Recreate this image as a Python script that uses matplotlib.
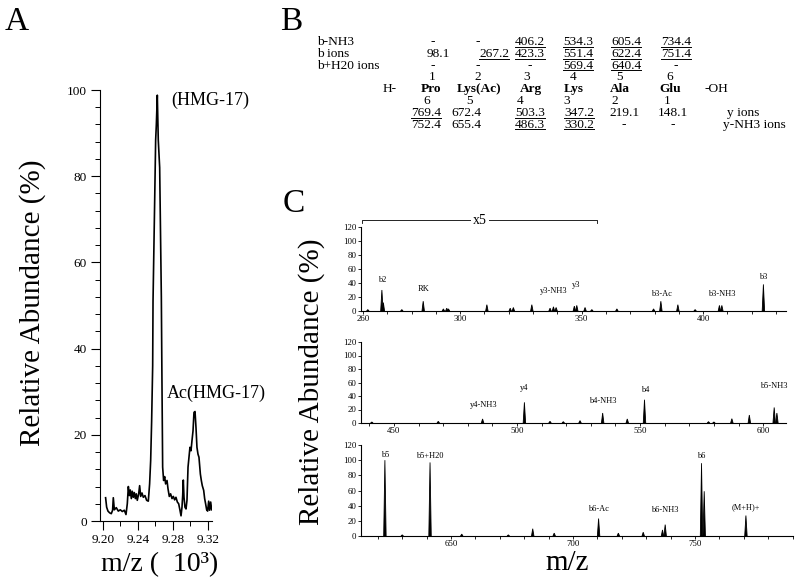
import matplotlib
matplotlib.use("Agg")
import matplotlib.pyplot as plt
from matplotlib.ticker import MultipleLocator, FixedLocator

plt.rcParams["font.family"] = ["Liberation Serif", "DejaVu Serif"]

W, H = 800, 586

# ── Panel A: HMG-17 mass profile (m/z x 10^3 vs relative abundance) ───────────
hmg_mz = [9.2030, 9.2042, 9.2057, 9.2076, 9.2095, 9.2110, 9.2118, 9.2130, 9.2152,
          9.2175, 9.2198, 9.2221, 9.2244, 9.2263, 9.2278, 9.2290, 9.2301, 9.2312,
          9.2324, 9.2335, 9.2347, 9.2358, 9.2370, 9.2381, 9.2392, 9.2408, 9.2419,
          9.2431, 9.2446, 9.2461, 9.2480, 9.2499, 9.2518, 9.2533, 9.2545, 9.2556,
          9.2568, 9.2572, 9.2591, 9.2602, 9.2610, 9.2621, 9.2632, 9.2648, 9.2667,
          9.2674, 9.2682, 9.2693, 9.2705, 9.2716, 9.2732, 9.2743, 9.2758, 9.2773,
          9.2789, 9.2804, 9.2819, 9.2834, 9.2850, 9.2865, 9.2880, 9.2892, 9.2903,
          9.2911, 9.2918, 9.2926, 9.2937, 9.2949, 9.2960, 9.2972, 9.2983, 9.2994,
          9.3006, 9.3017, 9.3029, 9.3040, 9.3052, 9.3063, 9.3074, 9.3086, 9.3097,
          9.3113, 9.3124, 9.3135, 9.3151, 9.3162, 9.3173, 9.3185, 9.3196, 9.3208,
          9.3219, 9.3231, 9.3242]
hmg_abund = [5.4, 3.2, 2.3, 1.9, 1.7, 2.5, 5.4, 2.6, 3.1,
             2.3, 2.6, 2.2, 2.5, 1.5, 4.0, 8.0, 5.9, 7.2,
             5.2, 6.9, 5.5, 6.6, 5.2, 6.3, 4.8, 6.3, 8.2,
             5.7, 6.5, 5.5, 5.9, 4.8, 4.6, 8.6, 14.0, 23.0,
             36.0, 51.0, 74.5, 88.4, 92.0, 98.8, 88.4, 82.0, 52.0,
             32.7, 12.5, 9.4, 10.3, 8.6, 9.4, 7.5, 5.7, 6.3,
             5.2, 5.7, 4.9, 5.5, 4.4, 4.0, 2.5, 1.2, 3.2,
             5.9, 9.5, 5.5, 3.2, 2.8, 4.8, 12.5, 14.8, 17.1,
             16.3, 18.6, 20.9, 25.2, 25.4, 21.7, 17.1, 15.5, 14.8,
             10.9, 9.4, 8.2, 7.1, 5.2, 4.0, 2.6, 2.3, 4.6,
             2.5, 4.4, 2.6]

# ── Panel B: fragment table ───────────────────────────────────────────────────
residues = ["Pro", "Lys(Ac)", "Arg", "Lys", "Ala", "Glu"]
b_nh3 = ["-", "-", "406.2", "534.3", "605.4", "734.4"]
b_ions = ["98.1", "267.2", "423.3", "551.4", "622.4", "751.4"]
b_h2o = ["-", "-", "-", "569.4", "640.4", "-"]
y_ions = ["769.4", "672.4", "503.3", "347.2", "219.1", "148.1"]
y_nh3 = ["752.4", "655.4", "486.3", "330.2", "-", "-"]
observed = {"406.2", "534.3", "605.4", "734.4", "267.2", "423.3", "551.4",
            "622.4", "751.4", "569.4", "640.4", "769.4", "503.3", "347.2",
            "486.3", "330.2"}

# ── Panel C: MS/MS spectra (m/z, relative abundance) ──────────────────────────
spec1_mz = [262.0, 267.8, 268.4, 276.0, 284.8, 293.1, 294.5, 295.2, 311.0, 320.6,
            321.9, 329.5, 337.0, 338.4, 339.5, 347.0, 348.0, 351.4, 354.2, 364.5,
            379.6, 382.6, 389.6, 396.7, 406.7, 407.7, 424.8]
spec1_int = [2, 30, 12, 2, 14, 3, 4, 3, 9, 4,
             5, 9, 4, 6, 5, 7, 8, 5, 2, 3,
             3, 14, 9, 2, 8, 8, 38]
spec1_labels = [("b2", 267.8, 44), ("RK", 284.8, 32), ("y3-NH3", 338.4, 28),
                ("y3", 347.6, 37), ("b3-Ac", 383.0, 25), ("b3-NH3", 407.7, 24),
                ("b3", 424.8, 49)]

spec2_mz = [441.0, 468.0, 486.0, 503.0, 513.4, 518.8, 525.6, 534.8, 544.8, 551.8,
            577.8, 580.0, 587.3, 594.4, 604.5, 605.6]
spec2_int = [1.5, 2.5, 6, 30.6, 2.5, 2, 3.5, 14.8, 6, 34.5,
             2, 1.5, 6.4, 11.8, 23, 14.8]
spec2_labels = [("y4-NH3", 486.5, 27), ("y4", 503.0, 52), ("b4-NH3", 534.8, 33),
                ("b4", 552.0, 49), ("b5-NH3", 604.5, 55)]

spec3_mz = [622.9, 630.0, 641.4, 654.4, 673.5, 683.5, 692.3, 710.5, 718.6, 728.8,
            736.7, 737.8, 752.7, 753.8, 770.9]
spec3_int = [100, 1.5, 97, 2.5, 1.5, 9.6, 3.8, 23, 3.8, 5,
             8, 15, 96, 59, 27]
spec3_labels = [("b5", 622.9, 107), ("b5+H20", 641.4, 105), ("b6-Ac", 710.5, 36),
                ("b6-NH3", 737.5, 34), ("b6", 752.7, 106), ("(M+H)+", 770.9, 38)]


def px_axes(fig, x0, y0, x1, y1):
    """Axes from a pixel box (top-left origin)."""
    return fig.add_axes([x0 / W, 1 - y1 / H, (x1 - x0) / W, (y1 - y0) / H])


def style_spectrum(ax, xlim, xlabels):
    ax.set_xlim(*xlim)
    ax.set_ylim(0, 120)
    for side in ("top", "right"):
        ax.spines[side].set_visible(False)
    for side in ("left", "bottom"):
        ax.spines[side].set_linewidth(0.8)
    ax.yaxis.set_major_locator(MultipleLocator(20))
    ax.xaxis.set_major_locator(FixedLocator(xlabels))
    ax.xaxis.set_minor_locator(MultipleLocator(10))
    ax.tick_params(axis="both", which="both", direction="out", length=2.2,
                   width=0.6, labelsize=6.3, pad=1)


def draw_peaks(ax, mz, inten, labels, hw=0.5):
    for m, h in zip(mz, inten):
        ax.fill([m - hw, m, m + hw], [0, h, 0], color="black", lw=0.6)
    for txt, m, y in labels:
        ax.text(m, y, txt, ha="center", va="center", fontsize=6)


fig = plt.figure(figsize=(W / 100, H / 100), dpi=100)

# ── A ──
axA = px_axes(fig, 100, 90, 212, 521)
axA.plot(hmg_mz, hmg_abund, color="black", lw=1.2)
axA.set_xlim(9.1966, 9.3246)
axA.set_ylim(0, 100)
for side in ("top", "right"):
    axA.spines[side].set_visible(False)
axA.xaxis.set_major_locator(FixedLocator([9.20, 9.24, 9.28, 9.32]))
axA.xaxis.set_minor_locator(MultipleLocator(0.02))
axA.yaxis.set_major_locator(MultipleLocator(20))
axA.yaxis.set_minor_locator(MultipleLocator(4))
axA.set_xticklabels(["9.20", "9.24", "9.28", "9.32"])
axA.tick_params(axis="both", which="major", length=6.5, width=0.8, labelsize=9.5, pad=3)
axA.tick_params(axis="both", which="minor", length=3.5, width=0.7)

# ── C ──
ax1 = px_axes(fig, 361, 227, 786, 311)
style_spectrum(ax1, (259.2, 434.1), [260, 300, 350, 400])
draw_peaks(ax1, spec1_mz, spec1_int, spec1_labels)
ax1.plot([259.6, 259.6, 356.5, 356.5], [126, 130, 130, 126], color="black",
         lw=0.6, clip_on=False)
ax1.text(308, 130, "x5", ha="center", va="center", fontsize=10,
         bbox=dict(facecolor="white", edgecolor="none", pad=1.5), clip_on=False)

ax2 = px_axes(fig, 361, 342, 786, 423)
style_spectrum(ax2, (436.6, 609.3), [450, 500, 550, 600])
draw_peaks(ax2, spec2_mz, spec2_int, spec2_labels)

ax3 = px_axes(fig, 361, 445, 793, 536)
style_spectrum(ax3, (613.1, 790.2), [650, 700, 750])
draw_peaks(ax3, spec3_mz, spec3_int, spec3_labels)

# ── overlay for free text (pixel coordinates) ──
ov = fig.add_axes([0, 0, 1, 1])
ov.set_xlim(0, W)
ov.set_ylim(H, 0)
ov.axis("off")

ov.text(5, 22, "A", fontsize=24, va="center", ha="left")
ov.text(280, 22, "B", fontsize=24, va="center", ha="left")
ov.text(283, 204, "C", fontsize=24, va="center", ha="left")

ov.text(171, 100, "(HMG-17)", fontsize=13, va="center", ha="left")
ov.text(167, 393, "Ac(HMG-17)", fontsize=13, va="center", ha="left")
ov.text(33, 303, "Relative Abundance (%)", fontsize=21, rotation=90,
        va="center", ha="center")
ov.text(160, 565, "m/z (  10\u00b3)", fontsize=20, va="center", ha="center")
ov.text(312, 382, "Relative Abundance (%)", fontsize=21, rotation=90,
        va="center", ha="center")
ov.text(567, 563, "m/z", fontsize=21, va="center", ha="center")

# table B (baselines in pixels)
row_base = [45.0, 56.8, 68.6, 80.4, 92.2, 104.0, 115.8, 127.6]
b_num_x = [438, 494, 530, 578, 626, 676]
b_dash_x = [433, 478, 530, 578, 626, 676]
y_num_x = [426, 466, 530, 579, 624, 673]
fs = 9.6
kw = dict(fontsize=fs, va="baseline")
under = []
for name, row, y in (("b-NH3", b_nh3, row_base[0]), ("b ions", b_ions, row_base[1]),
                     ("b+H20 ions", b_h2o, row_base[2])):
    ov.text(317, y, name, ha="left", **kw)
    for i, val in enumerate(row):
        x = b_dash_x[i] if val == "-" else b_num_x[i]
        t = ov.text(x, y, val, ha="center", **kw)
        if val in observed:
            under.append(t)

for i, x in enumerate([432, 478, 527, 573, 620, 670]):
    ov.text(x, row_base[3], str(i + 1), ha="center", **kw)
ov.text(390, row_base[4], "H-", ha="center", **kw)
for res, x in zip(residues, [431, 479, 531, 574, 620, 670]):
    ov.text(x, row_base[4], res, ha="center", fontweight="bold", **kw)
ov.text(716, row_base[4], "-OH", ha="center", **kw)
for i, x in enumerate([427, 470, 520, 567, 615, 667]):
    ov.text(x, row_base[5], str(len(residues) - i), ha="center", **kw)

for row, y in ((y_ions, row_base[6]), (y_nh3, row_base[7])):
    for i, val in enumerate(row):
        t = ov.text(y_num_x[i], y, val, ha="center", **kw)
        if val in observed:
            under.append(t)
ov.text(727, row_base[6], "y ions", ha="left", **kw)
ov.text(723, row_base[7], "y-NH3 ions", ha="left", **kw)

fig.canvas.draw()
renderer = fig.canvas.get_renderer()
inv = ov.transData.inverted()
for t in under:
    bb = t.get_window_extent(renderer)
    (x0, _), (x1, _) = inv.transform([(bb.x0, bb.y0), (bb.x1, bb.y1)])
    yu = t.get_position()[1] + 1.8
    ov.plot([x0, x1], [yu, yu], color="black", lw=0.7)

fig.savefig("out.png", dpi=100)
